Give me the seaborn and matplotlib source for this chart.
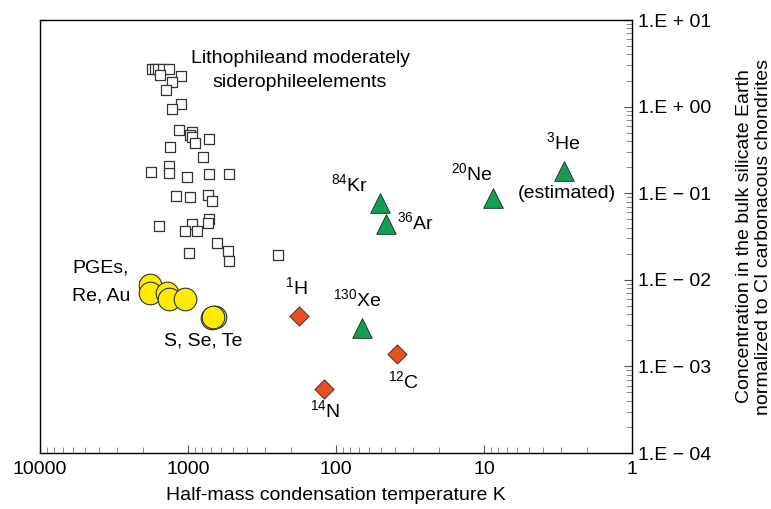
import numpy as np
import pandas as pd
import matplotlib
matplotlib.use("Agg")
import matplotlib.pyplot as plt
import seaborn as sns
from matplotlib.ticker import FixedLocator, LogLocator, NullFormatter

# ---- data ----
litho_T = [1758, 1671, 1596, 1476, 1344, 1546, 1120, 1288, 1416, 1120, 1276, 1146,
           944, 968, 944, 893, 724, 1318, 788, 1769, 1337, 1337, 1021, 718, 526,
           1205, 964, 736, 692, 718, 736, 1578, 940, 1047, 869, 640, 535, 526, 979, 247]
litho_C = [2.72, 2.72, 2.72, 2.72, 2.72, 2.32, 2.28, 1.94, 1.56, 1.07, 0.94, 0.537,
           0.513, 0.470, 0.446, 0.380, 0.426, 0.339, 0.260, 0.176, 0.206, 0.170,
           0.153, 0.165, 0.165, 0.093, 0.090, 0.095, 0.082, 0.050, 0.045, 0.042,
           0.044, 0.0366, 0.0369, 0.0268, 0.0215, 0.0165, 0.0206, 0.0195]

pge_T = [1807, 1807, 1393, 1337, 1047, 692, 658, 678]
pge_C = [0.0087, 0.00705, 0.0071, 0.00596, 0.0060, 0.00359, 0.00375, 0.00372]

gas_names = ["84Kr", "36Ar", "130Xe", "20Ne", "3He"]
gas_T = [50.4, 45.9, 66.4, 8.7, 2.87]
gas_C = [0.077, 0.044, 0.00275, 0.087, 0.182]

vol_names = ["1H", "12C", "14N"]
vol_T = [178, 38.7, 120]
vol_C = [0.00385, 0.00139, 0.000544]

x_ticks = [10000, 1000, 100, 10, 1]
x_ticklabels = ["10000", "1000", "100", "10", "1"]
y_ticks = [1e1, 1e0, 1e-1, 1e-2, 1e-3, 1e-4]
y_ticklabels = ["1.E + 01", "1.E + 00", "1.E \u2212 01", "1.E \u2212 02", "1.E \u2212 03", "1.E \u2212 04"]

x_label = "Half-mass condensation temperature K"
y_label = "Concentration in the bulk silicate Earth\nnormalized to CI carbonacous chondrites"

# ---- plot ----
sns.set_theme(style="white")
plt.rcParams["font.family"] = ["Liberation Sans", "DejaVu Sans"]
plt.rcParams["mathtext.fontset"] = "custom"
plt.rcParams["mathtext.rm"] = "Liberation Sans"
plt.rcParams["mathtext.it"] = "Liberation Sans"
plt.rcParams["text.color"] = "black"
plt.rcParams["axes.labelcolor"] = "black"
plt.rcParams["xtick.labelcolor"] = "black"
plt.rcParams["ytick.labelcolor"] = "black"

fig = plt.figure(figsize=(7.71, 5.09), dpi=100)
ax = fig.add_axes([0.0519, 0.110, 0.7678, 0.8507])

df_l = pd.DataFrame({"T": litho_T, "C": litho_C})
df_p = pd.DataFrame({"T": pge_T, "C": pge_C})
df_g = pd.DataFrame({"T": gas_T, "C": gas_C, "name": gas_names})
df_v = pd.DataFrame({"T": vol_T, "C": vol_C, "name": vol_names})

sns.scatterplot(data=df_l, x="T", y="C", ax=ax, marker="s", s=48,
                facecolor="white", edgecolor="#333333", linewidth=0.9, zorder=3)
sns.scatterplot(data=df_p, x="T", y="C", ax=ax, marker="o", s=265,
                color="#FFEB00", edgecolor="#333333", linewidth=0.8, zorder=3)
sns.scatterplot(data=df_g, x="T", y="C", ax=ax, marker="^", s=200,
                color="#11A052", edgecolor="#222222", linewidth=0.6, zorder=3)
sns.scatterplot(data=df_v, x="T", y="C", ax=ax, marker="D", s=95,
                color="#EC4F1F", edgecolor="#222222", linewidth=0.6, zorder=3)

ax.set_xscale("log")
ax.set_yscale("log")
ax.set_xlim(10000, 1)
ax.set_ylim(1e-4, 1e1)

# ticks
ax.xaxis.set_major_locator(FixedLocator(x_ticks))
ax.set_xticklabels(x_ticklabels)
ax.xaxis.set_minor_locator(LogLocator(base=10, subs=np.arange(2, 10)))
ax.xaxis.set_minor_formatter(NullFormatter())
ax.yaxis.set_major_locator(FixedLocator(y_ticks))
ax.set_yticklabels(y_ticklabels)
ax.yaxis.set_minor_locator(LogLocator(base=10, subs=np.arange(2, 10)))
ax.yaxis.set_minor_formatter(NullFormatter())
ax.yaxis.tick_right()
ax.yaxis.set_label_position("right")
ax.tick_params(axis="both", which="major", direction="in", length=6, width=0.8,
               labelsize=14, color="#555555", labelcolor="black")
ax.tick_params(axis="both", which="minor", direction="in", length=4, width=0.6,
               color="#777777")
ax.tick_params(axis="x", which="both", bottom=True, top=False, pad=6)
ax.tick_params(axis="y", which="both", left=False, right=True, pad=4)

for sp in ax.spines.values():
    sp.set_color("black")
    sp.set_linewidth(1.0)
    sp.set_visible(True)

ax.set_xlabel(x_label, fontsize=14, labelpad=6, color="black")
ax.set_ylabel(y_label, fontsize=14, labelpad=18, color="black")

# annotations
fs = 14
ax.text(175, 3.64, "Lithophileand moderately", ha="center", va="center", fontsize=fs)
ax.text(175, 1.92, "siderophileelements", ha="center", va="center", fontsize=fs)
ax.text(6080, 0.01367, "PGEs,", ha="left", va="center", fontsize=fs)
ax.text(6080, 0.0065, "Re, Au", ha="left", va="center", fontsize=fs)
ax.text(793, 0.00196, "S, Se, Te", ha="center", va="center", fontsize=fs)
ax.text(184, 0.00826, r"$^{1}$H", ha="center", va="center", fontsize=fs)
ax.text(72, 0.0060, r"$^{130}$Xe", ha="center", va="center", fontsize=fs)
ax.text(35.2, 0.000678, r"$^{12}$C", ha="center", va="center", fontsize=fs)
ax.text(118.6, 0.000314, r"$^{14}$N", ha="center", va="center", fontsize=fs)
ax.text(80.4, 0.128, r"$^{84}$Kr", ha="center", va="center", fontsize=fs)
ax.text(28.8, 0.0465, r"$^{36}$Ar", ha="center", va="center", fontsize=fs)
ax.text(12.05, 0.171, r"$^{20}$Ne", ha="center", va="center", fontsize=fs)
ax.text(2.93, 0.39, r"$^{3}$He", ha="center", va="center", fontsize=fs)
ax.text(2.75, 0.100, "(estimated)", ha="center", va="center", fontsize=fs)

fig.savefig("out.png", dpi=100)
